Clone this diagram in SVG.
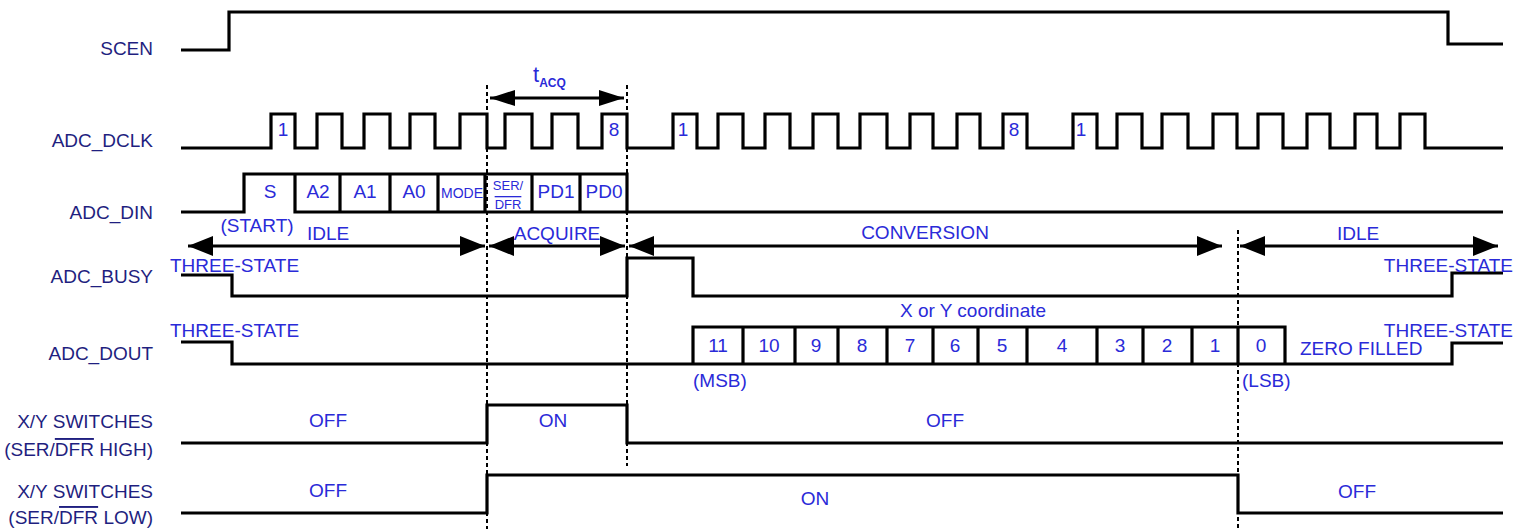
<svg xmlns="http://www.w3.org/2000/svg" width="1523" height="529" viewBox="0 0 1523 529">
<style>
.sig{fill:none;stroke:#000;stroke-width:3.2;stroke-linejoin:miter}
.dot{fill:none;stroke:#000;stroke-width:2;stroke-dasharray:4 3}
.arr{fill:none;stroke:#000;stroke-width:3}
.lbl{font-family:"Liberation Sans",Arial,sans-serif;font-size:19px;fill:#1f1f80;text-anchor:end}
.ann{font-family:"Liberation Sans",Arial,sans-serif;font-size:19px;fill:#2a2ad8}
.mid{text-anchor:middle}
.end{text-anchor:end}
.ol{text-decoration:overline}
</style>
<defs>
<marker id="ah" viewBox="0 0 25 20" refX="25" refY="10" markerWidth="25" markerHeight="20" markerUnits="userSpaceOnUse" orient="auto-start-reverse"><path d="M0,0 L25,10 L0,20 Z" fill="#000"/></marker>
<marker id="ahs" viewBox="0 0 25 16" refX="25" refY="8" markerWidth="25" markerHeight="16" markerUnits="userSpaceOnUse" orient="auto-start-reverse"><path d="M0,0 L25,8 L0,16 Z" fill="#000"/></marker>
</defs>

<g id="labels">
<text class="lbl" x="153" y="55">SCEN</text>
<text class="lbl" x="153" y="147">ADC_DCLK</text>
<text class="lbl" x="153" y="219">ADC_DIN</text>
<text class="lbl" x="153" y="283">ADC_BUSY</text>
<text class="lbl" x="153" y="360">ADC_DOUT</text>
<text class="lbl" x="153" y="428">X/Y SWITCHES</text>
<text class="lbl" x="153" y="456">(SER/<tspan class="ol">DFR</tspan> HIGH)</text>
<text class="lbl" x="153" y="498">X/Y SWITCHES</text>
<text class="lbl" x="153" y="524">(SER/<tspan class="ol">DFR</tspan> LOW)</text>
</g>

<g id="scen">
<path class="sig" d="M181,50 H229 V12 H1448 V44 H1503"/>
</g>

<g id="dclk">
<path class="sig" d="M181,148 H271 V114 H295 V148 H317 V114 H342 V148 H364 V114 H390 V148 H410 V114 H435 V148 H460 V114 H487 V148 H505 V114 H532 V148 H552 V114 H578 V148 H602 V114 H627 V148 H673 V114 H697 V148 H718 V114 H743 V148 H765 V114 H790 V148 H813 V114 H838 V148 H860 V114 H887 V148 H910 V114 H933 V148 H957 V114 H980 V148 H1003 V114 H1027 V148 H1073 V114 H1097 V148 H1117 V114 H1142 V148 H1162 V114 H1188 V148 H1213 V114 H1237 V148 H1258 V114 H1283 V148 H1307 V114 H1330 V148 H1355 V114 H1377 V148 H1400 V114 H1425 V148 H1503"/>
<text class="ann mid" x="283" y="136">1</text>
<text class="ann mid" x="614" y="136">8</text>
<text class="ann mid" x="683" y="136">1</text>
<text class="ann mid" x="1014" y="136">8</text>
<text class="ann mid" x="1081" y="136">1</text>
</g>

<g id="din">
<path class="sig" d="M181,212 H244 V174 H627 V212 H1503"/>
<path class="sig" d="M295,174 V212 H627 M340,174 V212 M390,174 V212 M438,174 V212 M485,174 V212 M532,174 V212 M580,174 V212"/>
<text class="ann mid" x="270" y="198">S</text>
<text class="ann mid" x="318" y="198">A2</text>
<text class="ann mid" x="365" y="198">A1</text>
<text class="ann mid" x="414" y="198">A0</text>
<text class="ann mid" x="462" y="198" style="font-size:14px">MODE</text>
<text class="ann mid" x="508" y="190" style="font-size:13px">SER/</text>
<text class="ann mid" x="508" y="209" style="font-size:13px"><tspan class="ol">DFR</tspan></text>
<text class="ann mid" x="556" y="198">PD1</text>
<text class="ann mid" x="604" y="198">PD0</text>
<text class="ann mid" x="257" y="232">(START)</text>
</g>

<g id="busy">
<path class="sig" d="M181,275 H232 V296 H627 V258 H693 V296 H1452 V273 H1503"/>
<text class="ann" x="170" y="272">THREE-STATE</text>
<text class="ann end" x="1513" y="272">THREE-STATE</text>
</g>

<g id="dout">
<path class="sig" d="M181,342 H232 V364 H1452 V343 H1503"/>
<path class="sig" d="M693,364 V327 H1285 V364 M743,327 V364 M795,327 V364 M838,327 V364 M887,327 V364 M933,327 V364 M978,327 V364 M1027,327 V364 M1097,327 V364 M1143,327 V364 M1192,327 V364 M1238,327 V364"/>
<text class="ann" x="170" y="337">THREE-STATE</text>
<text class="ann end" x="1513" y="337">THREE-STATE</text>
<text class="ann mid" x="973" y="317">X or Y coordinate</text>
<text class="ann mid" x="718" y="352">11</text>
<text class="ann mid" x="769" y="352">10</text>
<text class="ann mid" x="816" y="352">9</text>
<text class="ann mid" x="862" y="352">8</text>
<text class="ann mid" x="910" y="352">7</text>
<text class="ann mid" x="955" y="352">6</text>
<text class="ann mid" x="1002" y="352">5</text>
<text class="ann mid" x="1062" y="352">4</text>
<text class="ann mid" x="1120" y="352">3</text>
<text class="ann mid" x="1167" y="352">2</text>
<text class="ann mid" x="1215" y="352">1</text>
<text class="ann mid" x="1261" y="352">0</text>
<text class="ann" x="1300" y="355">ZERO FILLED</text>
<text class="ann" x="693" y="387">(MSB)</text>
<text class="ann" x="1242" y="387">(LSB)</text>
</g>

<g id="sw-high">
<path class="sig" d="M181,443 H487 V405 H627 V443 H1503"/>
<text class="ann mid" x="328" y="427">OFF</text>
<text class="ann mid" x="553" y="427">ON</text>
<text class="ann mid" x="945" y="427">OFF</text>
</g>

<g id="sw-low">
<path class="sig" d="M181,513 H487 V475 H1238 V513 H1503"/>
<text class="ann mid" x="328" y="497">OFF</text>
<text class="ann mid" x="815" y="505">ON</text>
<text class="ann mid" x="1357" y="498">OFF</text>
</g>

<g id="phases">
<text class="ann mid" x="328" y="240">IDLE</text>
<text class="ann mid" x="557" y="240">ACQUIRE</text>
<text class="ann mid" x="925" y="239">CONVERSION</text>
<text class="ann mid" x="1358" y="240">IDLE</text>
<text class="ann" x="533" y="82" style="font-size:22px">t<tspan dy="5" style="font-size:12px;font-weight:bold">ACQ</tspan></text>
</g>

<g id="connectors">
<path class="dot" d="M487,85 V529 M627,85 V466 M1238,230 V529"/>
<line class="arr" x1="188" y1="246" x2="485" y2="246" marker-start="url(#ah)" marker-end="url(#ah)"/>
<line class="arr" x1="489" y1="246" x2="625" y2="246" marker-start="url(#ah)" marker-end="url(#ah)"/>
<line class="arr" x1="629" y1="246" x2="1222" y2="246" marker-start="url(#ah)" marker-end="url(#ah)"/>
<line class="arr" x1="1240" y1="246" x2="1498" y2="246" marker-start="url(#ah)" marker-end="url(#ah)"/>
<line class="arr" x1="490" y1="98" x2="624" y2="98" marker-start="url(#ahs)" marker-end="url(#ahs)"/>
</g>
</svg>
